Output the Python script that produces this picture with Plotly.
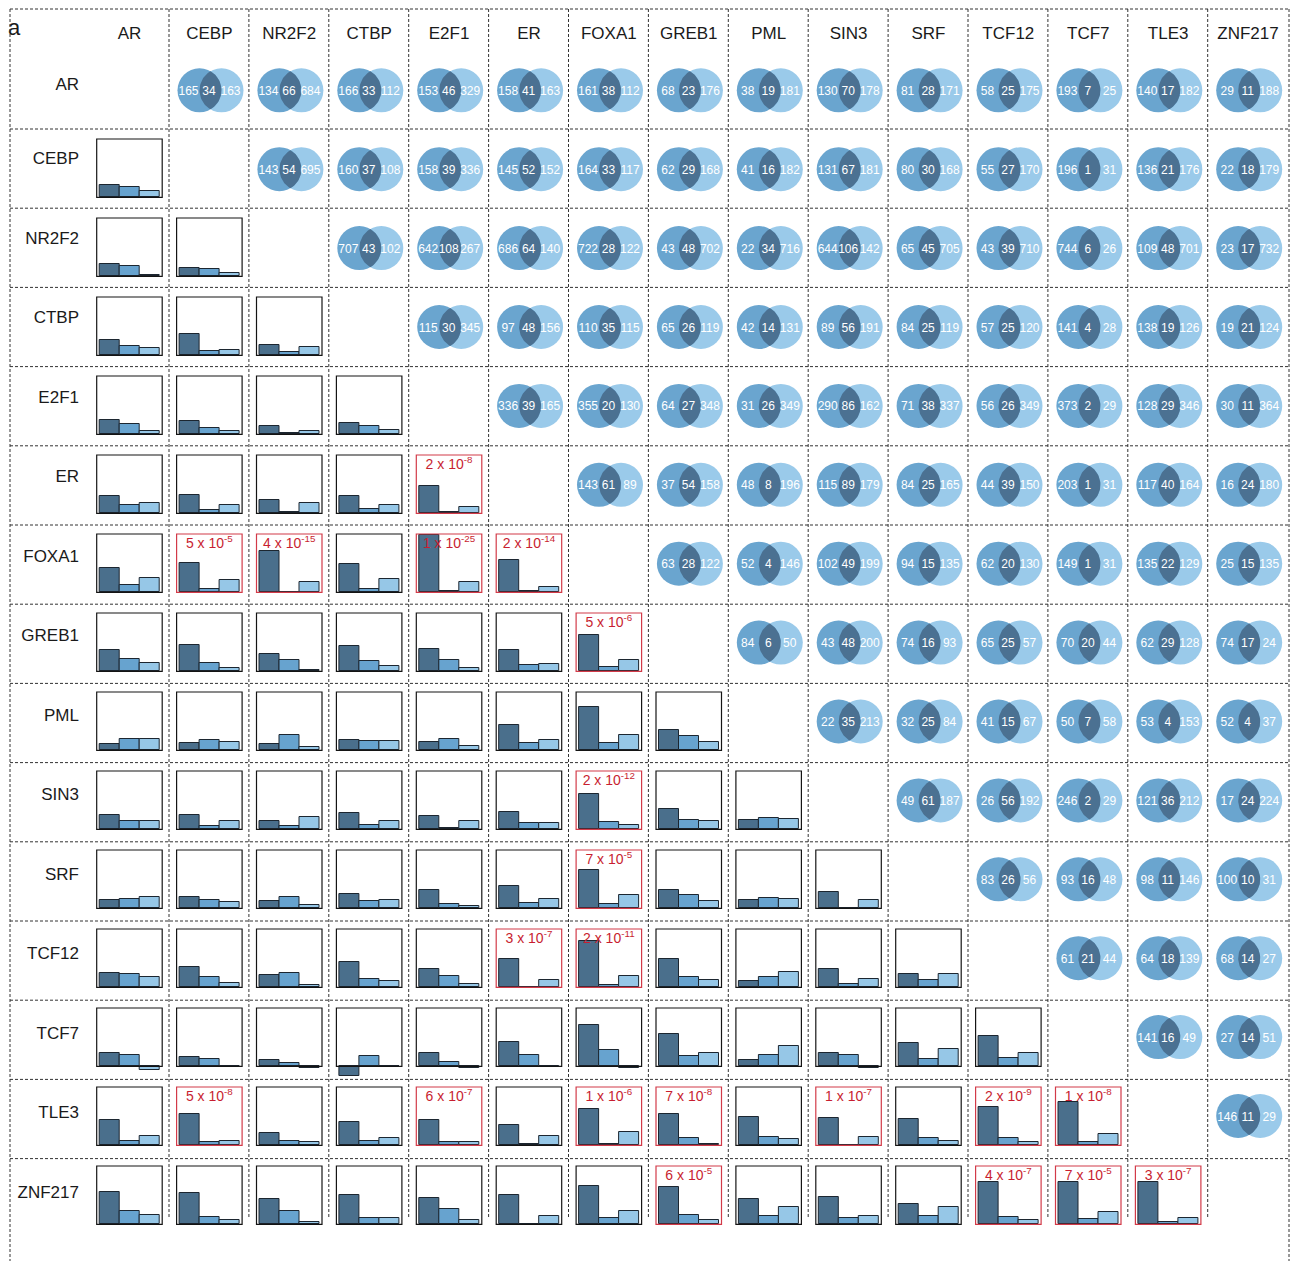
import numpy as np
import plotly.graph_objects as go

W, H = 1292, 1261

factors = ["AR", "CEBP", "NR2F2", "CTBP", "E2F1", "ER", "FOXA1", "GREB1",
           "PML", "SIN3", "SRF", "TCF12", "TCF7", "TLE3", "ZNF217"]

# Upper triangle: peak overlap counts (row only, shared, column only)
venn_AR = [(165, 34, 163), (134, 66, 684), (166, 33, 112), (153, 46, 329), (158, 41, 163),
           (161, 38, 112), (68, 23, 176), (38, 19, 181), (130, 70, 178), (81, 28, 171),
           (58, 25, 175), (193, 7, 25), (140, 17, 182), (29, 11, 188)]
venn_CEBP = [(143, 54, 695), (160, 37, 108), (158, 39, 336), (145, 52, 152), (164, 33, 117),
             (62, 29, 168), (41, 16, 182), (131, 67, 181), (80, 30, 168), (55, 27, 170),
             (196, 1, 31), (136, 21, 176), (22, 18, 179)]
venn_NR2F2 = [(707, 43, 102), (642, 108, 267), (686, 64, 140), (722, 28, 122), (43, 48, 702),
              (22, 34, 716), (644, 106, 142), (65, 45, 705), (43, 39, 710), (744, 6, 26),
              (109, 48, 701), (23, 17, 732)]
venn_CTBP = [(115, 30, 345), (97, 48, 156), (110, 35, 115), (65, 26, 119), (42, 14, 131),
             (89, 56, 191), (84, 25, 119), (57, 25, 120), (141, 4, 28), (138, 19, 126),
             (19, 21, 124)]
venn_E2F1 = [(336, 39, 165), (355, 20, 130), (64, 27, 348), (31, 26, 349), (290, 86, 162),
             (71, 38, 337), (56, 26, 349), (373, 2, 29), (128, 29, 346), (30, 11, 364)]
venn_ER = [(143, 61, 89), (37, 54, 158), (48, 8, 196), (115, 89, 179), (84, 25, 165),
           (44, 39, 150), (203, 1, 31), (117, 40, 164), (16, 24, 180)]
venn_FOXA1 = [(63, 28, 122), (52, 4, 146), (102, 49, 199), (94, 15, 135), (62, 20, 130),
              (149, 1, 31), (135, 22, 129), (25, 15, 135)]
venn_GREB1 = [(84, 6, 50), (43, 48, 200), (74, 16, 93), (65, 25, 57), (70, 20, 44),
              (62, 29, 128), (74, 17, 24)]
venn_PML = [(22, 35, 213), (32, 25, 84), (41, 15, 67), (50, 7, 58), (53, 4, 153), (52, 4, 37)]
venn_SIN3 = [(49, 61, 187), (26, 56, 192), (246, 2, 29), (121, 36, 212), (17, 24, 224)]
venn_SRF = [(83, 26, 56), (93, 16, 48), (98, 11, 146), (100, 10, 31)]
venn_TCF12 = [(61, 21, 44), (64, 18, 139), (68, 14, 27)]
venn_TCF7 = [(141, 16, 49), (27, 14, 51)]
venn_TLE3 = [(146, 11, 29)]

# Lower triangle: three-bar profiles, one triple per column factor
bars_CEBP = [(0.21, 0.17, 0.10)]
bars_NR2F2 = [(0.21, 0.17, 0.03), (0.15, 0.12, 0.05)]
bars_CTBP = [(0.26, 0.16, 0.13), (0.37, 0.07, 0.09), (0.17, 0.05, 0.15)]
bars_E2F1 = [(0.24, 0.17, 0.05), (0.22, 0.10, 0.06), (0.14, 0.03, 0.06), (0.19, 0.15, 0.07)]
bars_ER = [(0.29, 0.15, 0.17), (0.32, 0.05, 0.14), (0.22, 0.03, 0.17), (0.30, 0.08, 0.15),
           (0.47, 0.03, 0.11)]
bars_FOXA1 = [(0.41, 0.13, 0.24), (0.51, 0.05, 0.21), (0.71, 0.01, 0.18), (0.49, 0.05, 0.22),
              (0.98, 0.02, 0.17), (0.55, 0.03, 0.09)]
bars_GREB1 = [(0.37, 0.21, 0.15), (0.45, 0.15, 0.06), (0.30, 0.19, 0.03), (0.44, 0.17, 0.09),
              (0.38, 0.19, 0.05), (0.36, 0.10, 0.12), (0.62, 0.08, 0.20)]
bars_PML = [(0.11, 0.20, 0.19), (0.12, 0.18, 0.14), (0.10, 0.27, 0.05), (0.18, 0.16, 0.16),
            (0.14, 0.20, 0.08), (0.44, 0.12, 0.18), (0.74, 0.12, 0.27), (0.34, 0.25, 0.15)]
bars_SIN3 = [(0.25, 0.15, 0.15), (0.25, 0.06, 0.15), (0.14, 0.05, 0.21), (0.28, 0.08, 0.15),
             (0.23, 0.03, 0.15), (0.30, 0.10, 0.10), (0.60, 0.13, 0.07), (0.35, 0.16, 0.14),
             (0.16, 0.19, 0.18)]
bars_SRF = [(0.15, 0.16, 0.19), (0.20, 0.15, 0.11), (0.13, 0.19, 0.05), (0.25, 0.13, 0.14),
            (0.32, 0.07, 0.04), (0.39, 0.09, 0.16), (0.66, 0.08, 0.23), (0.32, 0.23, 0.13),
            (0.14, 0.18, 0.16), (0.28, 0.01, 0.14)]
bars_TCF12 = [(0.25, 0.22, 0.17), (0.35, 0.18, 0.08), (0.21, 0.25, 0.04), (0.44, 0.15, 0.10),
              (0.31, 0.20, 0.06), (0.49, 0.01, 0.12), (0.79, 0.04, 0.20), (0.49, 0.17, 0.12),
              (0.11, 0.18, 0.26), (0.32, 0.06, 0.14), (0.23, 0.13, 0.23)]
bars_TCF7 = [(0.23, 0.19, -0.07), (0.16, 0.13, -0.02), (0.10, 0.06, -0.03), (-0.17, 0.17, 0.005),
             (0.23, 0.08, -0.03), (0.41, 0.19, -0.01), (0.70, 0.28, -0.03), (0.55, 0.17, 0.23),
             (0.10, 0.19, 0.35), (0.22, 0.19, -0.03), (0.40, 0.12, 0.30), (0.52, 0.15, 0.23)]
bars_TLE3 = [(0.43, 0.08, 0.16), (0.53, 0.05, 0.08), (0.21, 0.08, 0.05), (0.40, 0.08, 0.13),
             (0.43, 0.05, 0.06), (0.34, 0.03, 0.16), (0.62, 0.03, 0.23), (0.53, 0.13, 0.03),
             (0.49, 0.15, 0.10), (0.46, 0.01, 0.14), (0.45, 0.13, 0.08), (0.65, 0.12, 0.05),
             (0.74, 0.05, 0.19)]
bars_ZNF217 = [(0.56, 0.22, 0.16), (0.54, 0.12, 0.08), (0.43, 0.22, 0.04), (0.51, 0.10, 0.10),
               (0.45, 0.26, 0.07), (0.51, 0.01, 0.14), (0.66, 0.10, 0.23), (0.64, 0.16, 0.07),
               (0.43, 0.14, 0.30), (0.46, 0.10, 0.14), (0.34, 0.14, 0.30), (0.73, 0.12, 0.07),
               (0.73, 0.09, 0.21), (0.72, 0.04, 0.11)]

# Significant pairs: (row, column, mantissa, exponent)
pvalues = [("ER", "E2F1", 2, -8), ("FOXA1", "CEBP", 5, -5), ("FOXA1", "NR2F2", 4, -15),
           ("FOXA1", "E2F1", 1, -25), ("FOXA1", "ER", 2, -14), ("GREB1", "FOXA1", 5, -6),
           ("SIN3", "FOXA1", 2, -12), ("SRF", "FOXA1", 7, -5), ("TCF12", "ER", 3, -7),
           ("TCF12", "FOXA1", 2, -11), ("TLE3", "CEBP", 5, -8), ("TLE3", "E2F1", 6, -7),
           ("TLE3", "FOXA1", 1, -6), ("TLE3", "GREB1", 7, -8), ("TLE3", "SIN3", 1, -7),
           ("TLE3", "TCF12", 2, -9), ("TLE3", "TCF7", 1, -8), ("ZNF217", "GREB1", 6, -5),
           ("ZNF217", "TCF12", 4, -7), ("ZNF217", "TCF7", 7, -5), ("ZNF217", "TLE3", 3, -7)]

venn_rows = [venn_AR, venn_CEBP, venn_NR2F2, venn_CTBP, venn_E2F1, venn_ER, venn_FOXA1,
             venn_GREB1, venn_PML, venn_SIN3, venn_SRF, venn_TCF12, venn_TCF7, venn_TLE3]
bar_rows = [None, bars_CEBP, bars_NR2F2, bars_CTBP, bars_E2F1, bars_ER, bars_FOXA1,
            bars_GREB1, bars_PML, bars_SIN3, bars_SRF, bars_TCF12, bars_TCF7, bars_TLE3,
            bars_ZNF217]

# ---- styling ----
FONT = "Liberation Sans, Arial, Helvetica, sans-serif"
BAR_COLORS = ["#4a6f8c", "#67a3cf", "#96c7e7"]
VENN_LEFT, VENN_RIGHT, VENN_LENS = "#6aa5cf", "#9acaea", "#4b7192"
RED_LINE, RED_TEXT = "#d23a48", "#c81e30"
GRID = dict(color="#333333", width=1, dash="3px,2px")

# ---- grid geometry (pixels) ----
COLW = 79.9
ROWH = 79.2
BOX_W, BOX_H = 65.5, 58.3
R = 22.0          # Venn circle radius
SEP = 22.0        # distance between circle centres


def box_left(j):
    return 96.7 + COLW * j


def box_top(k):
    return 139.0 + 79.0 * (k - 1)


def venn_center(k, j):
    return 210.5 + COLW * (j - 1), 90.3 + 78.9 * k


fig = go.Figure()

# Venn circles and overlap lenses on a full-page pixel axis
lx, ly, rx, ry, tx, ty, tt = [], [], [], [], [], [], []
lens_x, lens_y = [], []
h = np.sqrt(R ** 2 - (SEP / 2) ** 2)
theta = np.arctan2(h, SEP / 2)
a1 = np.linspace(-theta, theta, 40)
a2 = np.linspace(np.pi - theta, np.pi + theta, 40)
for k, row in enumerate(venn_rows):
    for i, (left, both, right) in enumerate(row):
        j = k + 1 + i
        cx, cy = venn_center(k, j)
        lx.append(cx - SEP / 2); ly.append(cy)
        rx.append(cx + SEP / 2); ry.append(cy)
        xs = np.concatenate([cx - SEP / 2 + R * np.cos(a1), cx + SEP / 2 + R * np.cos(a2)])
        ys = np.concatenate([cy + R * np.sin(a1), cy + R * np.sin(a2)])
        lens_x += list(xs) + [xs[0], None]
        lens_y += list(ys) + [ys[0], None]
        for dx, v in ((-22, left), (-1.5, both), (20, right)):
            tx.append(cx + dx); ty.append(cy + 1.5); tt.append(str(v))

fig.add_trace(go.Scatter(x=rx, y=ry, mode="markers", hoverinfo="skip",
                         marker=dict(size=2 * R, color=VENN_RIGHT, line=dict(width=0))))
fig.add_trace(go.Scatter(x=lx, y=ly, mode="markers", hoverinfo="skip",
                         marker=dict(size=2 * R, color=VENN_LEFT, line=dict(width=0))))
fig.add_trace(go.Scatter(x=lens_x, y=lens_y, mode="lines", fill="toself",
                         fillcolor=VENN_LENS, line=dict(width=0), hoverinfo="skip"))
fig.add_trace(go.Scatter(x=tx, y=ty, mode="text", text=tt, hoverinfo="skip",
                         textfont=dict(family=FONT, size=12, color="white")))

# Factor labels
hx = [box_left(j) + BOX_W / 2 for j in range(len(factors))]
fig.add_trace(go.Scatter(x=hx, y=[35] * len(factors), mode="text", text=factors,
                         textposition="middle center", hoverinfo="skip",
                         textfont=dict(family=FONT, size=17, color="#1a1a1a")))
row_y = [86] + [160 + 79.5 * (k - 1) for k in range(1, len(factors))]
fig.add_trace(go.Scatter(x=[79] * len(factors), y=row_y, mode="text", text=factors,
                         textposition="middle left", hoverinfo="skip",
                         textfont=dict(family=FONT, size=17, color="#1a1a1a")))
fig.add_trace(go.Scatter(x=[8], y=[29], mode="text", text=["a"], textposition="middle right",
                         hoverinfo="skip", textfont=dict(family=FONT, size=22, color="#1a1a1a")))

shapes = []
# dashed cell grid
shapes.append(dict(type="line", xref="x", yref="y", x0=10, x1=1289, y0=9, y1=9, line=GRID))
shapes.append(dict(type="line", xref="x", yref="y", x0=10, x1=10, y0=9, y1=1261, line=GRID))
shapes.append(dict(type="line", xref="x", yref="y", x0=1289, x1=1289, y0=9, y1=1261, line=GRID))
for k in range(1, len(factors)):
    y = 129 + ROWH * (k - 1)
    shapes.append(dict(type="line", xref="x", yref="y", x0=10, x1=1289, y0=y, y1=y, line=GRID))
for j in range(1, len(factors)):
    x = 169 + COLW * (j - 1)
    shapes.append(dict(type="line", xref="x", yref="y", x0=x, x1=x, y0=9, y1=1218, line=GRID))

layout_axes = {}
sig = {(r, c): (m, e) for r, c, m, e in pvalues}

XB0, XB1 = -0.63, 2.63
PAD, BELOW = 3.0, 16.0
n = 1
for k in range(1, len(factors)):
    for j, vals in enumerate(bar_rows[k]):
        n += 1
        L, T = box_left(j), box_top(k)
        sx = BOX_W / (XB1 - XB0)
        xa, ya = f"xaxis{n}", f"yaxis{n}"
        layout_axes[xa] = dict(domain=[(L - PAD) / W, (L + BOX_W + PAD) / W],
                               range=[XB0 - PAD / sx, XB1 + PAD / sx],
                               visible=False, fixedrange=True, anchor=f"y{n}")
        layout_axes[ya] = dict(domain=[1 - (T + BOX_H + BELOW) / H, 1 - (T - PAD) / H],
                               range=[-BELOW / BOX_H, 1 + PAD / BOX_H],
                               visible=False, fixedrange=True, anchor=f"x{n}")
        fig.add_trace(go.Bar(x=[0, 1, 2], y=list(vals), width=1, xaxis=f"x{n}", yaxis=f"y{n}",
                             hoverinfo="skip",
                             marker=dict(color=BAR_COLORS, line=dict(color="#1c2630", width=1))))
        key = (factors[k], factors[j])
        red = key in sig
        shapes.append(dict(type="rect", xref=f"x{n}", yref=f"y{n}", x0=XB0, x1=XB1, y0=0, y1=1,
                           layer="above", fillcolor="rgba(0,0,0,0)",
                           line=dict(color=RED_LINE if red else "#141414", width=1.2)))
        if red:
            m, e = sig[key]
            fig.add_trace(go.Scatter(x=[1.0], y=[1 - 10.5 / BOX_H], mode="text",
                                     text=[f"{m} x 10<sup>{e}</sup>"], cliponaxis=False,
                                     xaxis=f"x{n}", yaxis=f"y{n}", hoverinfo="skip",
                                     textposition="middle center",
                                     textfont=dict(family=FONT, size=14, color=RED_TEXT)))

fig.update_layout(
    width=W, height=H, margin=dict(l=0, r=0, t=0, b=0),
    paper_bgcolor="white", plot_bgcolor="rgba(0,0,0,0)",
    showlegend=False, bargap=0,
    xaxis=dict(domain=[0, 1], range=[0, W], visible=False, fixedrange=True),
    yaxis=dict(domain=[0, 1], range=[H, 0], visible=False, fixedrange=True),
    shapes=shapes,
    **layout_axes,
)

fig.write_html("out.html")
